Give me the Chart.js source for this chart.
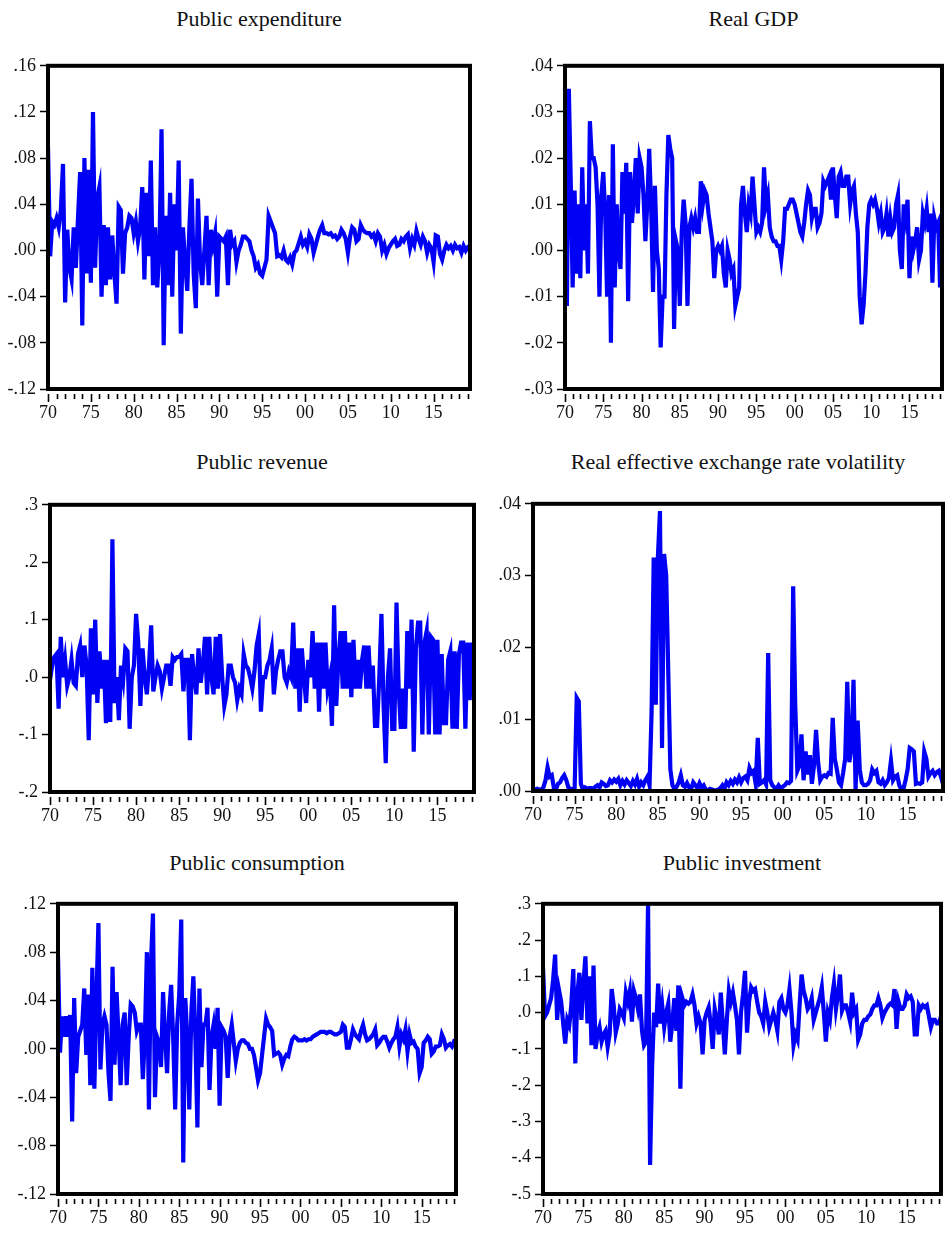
<!DOCTYPE html>
<html>
<head>
<meta charset="utf-8">
<title>Series plots</title>
<script src="https://cdn.jsdelivr.net/npm/chart.js@4.4.1/dist/chart.umd.min.js"></script>
<style>
  body { margin: 0; background: #fff; }
  #page { position: relative; width: 947px; height: 1236px; overflow: hidden; }
  .title {
    position: absolute;
    font-family: "Liberation Serif", "Times New Roman", serif;
    font-size: 22px;
    line-height: 24px;
    color: #111;
    text-align: center;
    white-space: nowrap;
  }
  canvas { position: absolute; }
</style>
</head>
<body>
<div id="page"></div>
<script>
// Quarterly observations, 1970Q1 .. 2019Q2 (198 points)
const quarters = [];
for (let i = 0; i < 198; i++) quarters.push(1970 + i / 4);

// Year tick labels shown under each axis
const yearTicks = [1970, 1975, 1980, 1985, 1990, 1995, 2000, 2005, 2010, 2015];

const publicExpenditure = [
  .09, -.005, .025, .022, .028, .02, .035, .075,
  -.045, .018, -.015, -.025, .02, -.015, .028, .068,
  -.065, .08, -.02, .07, -.028, .12, -.015, .045,
  .055, -.04, .022, -.03, .02, -.025, .013, -.02,
  -.046, .038, .035, -.02, .015, .02, .03, .028,
  .015, .025, .008, .02, .055, -.025, .05, -.005,
  .078, -.03, .02, -.032, .0, .105, -.082, .03,
  -.03, .05, -.04, .04, .0, .078, -.072, .02,
  -.01, -.035, .02, .062, -.02, -.05, .045, -.01,
  -.03, .0, .03, -.03, .018, .005, .015, -.04,
  .012, .01, .008, .012, -.03, .018, .005, .008,
  -.01, .0, .005, .012, .012, .01, .008, .0,
  -.005, -.015, -.012, -.02, -.022, -.015, -.008, .03,
  .025, .02, .015, -.005, -.004, -.006, .0, -.008,
  -.01, -.006, -.012, -.002, .0, .006, .012, .005,
  .008, .003, .014, .01, -.002, .005, .012, .018,
  .022, .015, .015, .014, .015, .012, .013, .01,
  .012, .018, .015, .01, -.002, .012, .02, .018,
  .008, .01, .022, .018, .016, .015, .015, .012,
  .014, .008, .015, .012, .0, .005, -.003, .002,
  .005, .008, .01, .004, .005, .01, .008, .012,
  .014, .002, .01, .005, .017, .01, .005, .012,
  .008, -.002, .005, .002, -.01, .013, .012, -.003,
  -.008, .0, .005, .002, .004, .0, .005, .002,
  .003, -.002, .004, .0, .003, .004
];

const realGdp = [
  .02, -.012, .035, .015, -.008, .013, -.005, .01,
  -.006, .018, .0, .01, -.005, .028, .02, .02,
  .018, .01, -.01, .012, .017, .008, -.01, .012,
  -.02, .023, -.008, .01, .0, -.004, .017, .008,
  .019, -.011, .017, .006, .012, .02, .008, .02,
  .018, .012, .002, .01, .022, .01, -.009, .014,
  .0, -.004, -.021, -.01, -.01, .012, .025, .022,
  .02, -.017, .002, .0, -.012, .004, .011, .006,
  -.012, .005, .007, .005, .007, .004, .004, .015,
  .01, .013, .012, .008, .005, .002, -.006, .0,
  .001, .0, .001, -.005, -.008, .0, -.002, -.005,
  -.004, -.012, -.01, -.008, .01, .014, .008, .004,
  .01, .008, .016, .01, .004, .005, .004, .006,
  .018, .01, .012, .005, .003, .002, .002, .001,
  .001, -.002, .002, .009, .009, .01, .011, .011,
  .01, .008, .006, .004, .003, .006, .01, .013,
  .012, .007, .009, .009, .005, .006, .008, .015,
  .014, .015, .016, .011, .018, .012, .007, .016,
  .017, .014, .014, .016, .016, .01, .013, .014,
  .008, .004, -.01, -.016, -.012, -.005, .005, .01,
  .011, .01, .011, .009, .006, .008, .004, .005,
  .008, .003, .007, .004, .005, .01, .012, .0,
  -.004, .01, .007, .011, -.006, .003, .0, .002,
  .005, -.002, .0, .008, .006, .009, .004, .008,
  -.007, .007, .005, .006, -.008, .0
];

const publicRevenue = [
  -.005, .02, .035, .04, -.055, .07, .0, .03,
  -.015, .0, .03, -.01, -.015, .04, .055, .0,
  .055, .02, -.11, .085, -.03, .1, -.045, .045,
  -.02, .03, -.08, .03, -.078, .24, -.045, .0,
  -.075, .02, -.005, .05, .045, -.09, .0, .02,
  .11, .06, -.05, .05, .0, -.03, .02, .09,
  -.025, .0, .02, .01, -.02, .0, .02, .02,
  -.015, .035, .03, .035, .035, .04, -.025, .03,
  .03, -.11, .04, .0, -.03, .05, -.01, .02,
  .07, -.03, .07, .0, -.03, .07, -.02, .075,
  .0, -.05, -.03, .02, .02, .0, -.01, -.04,
  -.02, -.03, .04, .02, .015, .0, -.02, .01,
  .055, .075, -.06, .0, .0, .02, .03, .05,
  -.03, .01, .03, .045, .045, .0, -.01, .01,
  .0, .095, -.02, .05, -.06, .05, .0, -.045,
  .03, .0, .08, -.02, .06, -.06, .06, -.02,
  .06, -.02, .0, -.085, .125, -.05, .03, .08,
  -.02, .08, -.02, .06, -.035, .065, -.02, .03,
  -.02, .03, .055, -.02, .055, -.02, .02, -.085,
  -.085, .0, .11, -.05, -.15, .0, .05, -.09,
  -.09, .13, -.02, -.09, -.02, -.09, .08, -.02,
  .1, -.13, .05, .095, .095, -.1, .06, .08,
  -.1, .07, .065, -.1, .065, -.1, .04, -.08,
  -.08, .03, .045, -.09, .045, -.09, .04, .06,
  .06, -.09, .06, -.04, .06, .02
];

const reerVolatility = [
  .0003, .0002, .0003, .0002, .0002, .0005, .0015, .0033,
  .002, .0022, .0005, .0002, .001, .0012, .0018, .0022,
  .0015, .0005, .0003, .0002, .0003, .013, .0125, .001,
  .0002, .0005, .0003, .0004, .0004, .0003, .0006, .0008,
  .0005, .0012, .001, .0007, .0008, .0015, .0012, .0016,
  .0013, .0017, .0008, .0014, .0009, .0015, .0011, .0007,
  .0014, .0009, .0017, .0006, .0012, .0008, .0015, .002,
  .0008, .0112, .0325, .012, .0325, .039, .006, .033,
  .03, .0165, .003, .0008, .0003, .0006, .0012, .0022,
  .0008, .0006, .0011, .0005, .0003, .0012, .0008, .0004,
  .0011, .0005, .0008, .0002, .0001, .0003, .0002, .0001,
  .0001, .0002, .0004, .0008, .0003, .0012, .0008, .0014,
  .001, .0016, .0012, .0019, .0012, .0018, .002, .0015,
  .0032, .0025, .0028, .001, .0074, .001, .0012, .0015,
  .0009, .0192, .0015, .0008, .0005, .0003, .0008, .0004,
  .0006, .0008, .0012, .0011, .0014, .0285, .012, .0028,
  .0035, .0079, .0015, .0055, .0023, .005, .001, .0035,
  .0085, .004, .0015, .002, .0022, .002, .0025, .0024,
  .0102, .0045, .003, .0012, .0008, .0025, .0045, .0152,
  .004, .006, .0155, .0002, .0098, .003, .0012, .0008,
  .0008, .001, .0015, .003, .0025, .0028, .0012, .001,
  .0015, .0008, .0012, .0018, .0042, .0015, .002, .0022,
  .0008, .0002, .0003, .0015, .003, .006, .0058, .0055,
  .001, .0011, .001, .0012, .0055, .0045, .002, .0025,
  .0028, .0022, .0026, .0028, .002, .001
];

const publicConsumption = [
  .077, -.003, .027, .01, .027, .01, .028, -.06,
  .042, -.02, .01, .015, .02, .05, -.005, .045,
  -.03, .067, -.033, .04, .104, -.017, .02, .027,
  .02, -.02, -.043, .068, -.013, .047, .01, -.03,
  .02, .03, -.03, .01, .037, .035, .03, .015,
  .02, .02, -.025, .01, .08, -.05, .07, .112,
  -.04, .01, .005, -.015, .047, .01, -.02, .03,
  .053, .01, -.05, .02, .045, .107, -.094, .042,
  .01, -.05, .03, .06, .01, -.065, .05, -.015,
  .02, .02, .034, -.034, .01, .02, .0, .034,
  -.047, .018, .015, .01, -.024, .01, .02, .005,
  -.01, .0, .005, .007, .007, .005, .004, .0,
  .0, -.005, -.015, -.026, -.02, -.005, .01, .025,
  .02, .018, .015, -.005, -.004, -.003, -.005, -.013,
  -.008, -.005, -.006, .002, .008, .01, .009, .007,
  .007, .007, .008, .007, .008, .008, .01, .011,
  .012, .013, .014, .014, .014, .013, .014, .014,
  .013, .012, .012, .013, .014, .02, .018, .001,
  .001, .008, .016, .012, .01, .008, .015, .02,
  .012, .007, .008, .01, .012, .016, .003, .005,
  .008, .01, .01, .006, .001, .005, .008, .01,
  .018, .002, .012, .008, .016, -.002, .012, .005,
  .006, .002, .0, -.02, -.015, .005, .007, .01,
  .008, -.004, -.002, .002, .002, .003, .012, .008,
  .001, .003, .004, .002, .006, .005
];

const publicInvestment = [
  .125, -.01, .0, .02, .04, .09, .16, -.02,
  .06, .03, -.03, -.085, -.02, -.035, .02, .12,
  -.14, .05, .11, -.02, .08, .155, -.03, .1,
  -.09, .13, -.1, -.06, -.04, -.08, -.06, -.05,
  -.095, -.06, .065, .02, -.055, -.03, .01, .0,
  -.015, .055, .03, .06, -.025, .06, .04, .01,
  .05, -.05, -.09, -.08, .3, -.42, -.15, .0,
  -.04, .08, -.03, .02, -.04, .0, .025, -.08,
  -.03, .04, -.05, .075, -.21, .04, .02, .03,
  .025, .03, .05, .02, -.03, -.01, -.03, -.115,
  -.02, .0, .015, -.03, -.1, .01, -.02, -.06,
  .055, -.03, -.115, -.02, .06, .03, .055, .02,
  -.02, -.115, .0, .05, .115, -.055, .03, .07,
  .06, .065, .03, .0, -.01, -.03, .03, .0,
  -.04, -.02, .0, -.02, -.05, .03, .04, .01,
  .0, .02, .065, .0, -.09, -.06, -.075, .02,
  .105, .06, .04, .01, .02, .04, -.02, .0,
  .02, .04, .07, .0, -.08, .0, -.02, .04,
  .08, .01, .05, .105, .005, .02, .02, .0,
  -.025, .055, .0, .01, -.075, -.06, -.03, -.02,
  -.02, -.01, -.005, .01, .02, .02, .04, .02,
  -.015, .0, .01, .02, .025, .02, .065, -.045,
  .03, .01, .01, .02, .05, .04, .045, .03,
  -.06, -.06, .02, .01, .02, .015, .02, -.01,
  -.04, -.02, -.02, -.03, -.03, -.01
];

// Space reserved round each plot area inside its canvas
const AXIS_W = 50;
const AXIS_H = 38;
const PAD_T = 14;
const PAD_R = 10;
const FONT = "'Liberation Serif', 'Times New Roman', serif";

// Plot rectangles on the page (left, top, right, bottom) and title tops
const panels = [
  { title: "Public expenditure", values: publicExpenditure, rect: [48, 65, 470, 389], titleTop: 7,
    min: -0.12, max: 0.16, step: 0.04, dec: 2 },
  { title: "Real GDP", values: realGdp, rect: [565, 65, 942, 389], titleTop: 7,
    min: -0.03, max: 0.04, step: 0.01, dec: 2 },
  { title: "Public revenue", values: publicRevenue, rect: [50, 504, 474, 792], titleTop: 450,
    min: -0.2, max: 0.3, step: 0.1, dec: 1 },
  { title: "Real effective exchange rate volatility", values: reerVolatility, rect: [533, 503, 943, 791], titleTop: 450,
    min: 0, max: 0.04, step: 0.01, dec: 2 },
  { title: "Public consumption", values: publicConsumption, rect: [58, 903, 456, 1194], titleTop: 851,
    min: -0.12, max: 0.12, step: 0.04, dec: 2 },
  { title: "Public investment", values: publicInvestment, rect: [543, 903, 941, 1194], titleTop: 851,
    min: -0.5, max: 0.3, step: 0.1, dec: 1 },
];

// EViews style labels: ".04", "-.1", ".00"
function fmt(v, dec) {
  const s = Math.abs(v).toFixed(dec).replace(/^0/, "");
  return (v < -1e-9 ? "-" : "") + s;
}

// Thick frame round the plot plus yearly tick marks below it
const framePlugin = {
  id: "frame",
  afterDatasetsDraw(chart) {
    const { ctx, chartArea: a, scales } = chart;
    const x = scales.x;
    ctx.save();
    ctx.strokeStyle = "#000";
    ctx.lineWidth = 4;
    ctx.strokeRect(a.left, a.top, a.right - a.left, a.bottom - a.top);
    ctx.lineWidth = 1.6;
    for (let yr = 1970; yr <= 2019; yr++) {
      const px = Math.round(x.getPixelForValue(yr)) + 0.5;
      const major = yearTicks.includes(yr);
      ctx.beginPath();
      ctx.moveTo(px, a.bottom + 5);
      ctx.lineTo(px, a.bottom + (major ? 13 : 10));
      ctx.stroke();
    }
    ctx.restore();
  },
};

function makePanel(p) {
  const page = document.getElementById("page");
  const [l, t, r, b] = p.rect;

  const title = document.createElement("div");
  title.className = "title";
  title.textContent = p.title;
  title.style.left = (l - 40) + "px";
  title.style.width = (r - l + 80) + "px";
  title.style.top = p.titleTop + "px";
  page.appendChild(title);

  const canvas = document.createElement("canvas");
  canvas.width = r - l + AXIS_W + PAD_R;
  canvas.height = b - t + PAD_T + AXIS_H;
  canvas.style.left = (l - AXIS_W) + "px";
  canvas.style.top = (t - PAD_T) + "px";
  page.appendChild(canvas);

  new Chart(canvas.getContext("2d"), {
    type: "line",
    data: {
      datasets: [
        {
          data: p.values.map((v, i) => ({ x: quarters[i], y: v })),
          borderColor: "#0000f5",
          borderWidth: 4.2,
          pointRadius: 0,
          tension: 0,
          fill: false,
        },
      ],
    },
    options: {
      responsive: false,
      animation: false,
      events: [],
      layout: { padding: { left: 0, top: PAD_T, right: PAD_R, bottom: 0 } },
      plugins: { legend: { display: false }, tooltip: { enabled: false } },
      scales: {
        x: {
          type: "linear",
          min: 1970,
          max: 2019.25,
          afterFit(s) { s.height = AXIS_H; },
          grid: { display: false, drawTicks: false },
          border: { display: false },
          ticks: {
            stepSize: 5,
            includeBounds: false,
            autoSkip: false,
            maxRotation: 0,
            padding: 13,
            color: "#111",
            font: { family: FONT, size: 18 },
            callback: (v) => (yearTicks.includes(v) ? String(v % 100).padStart(2, "0") : ""),
          },
        },
        y: {
          min: p.min,
          max: p.max,
          afterFit(s) { s.width = AXIS_W; },
          grid: { drawOnChartArea: false, tickLength: 8, tickColor: "#000", tickWidth: 1.5 },
          border: { display: false },
          ticks: {
            stepSize: p.step,
            padding: 4,
            color: "#111",
            font: { family: FONT, size: 18 },
            callback: (v) => fmt(v, p.dec),
          },
        },
      },
    },
    plugins: [framePlugin],
  });
}

panels.forEach(makePanel);
</script>
</body>
</html>
